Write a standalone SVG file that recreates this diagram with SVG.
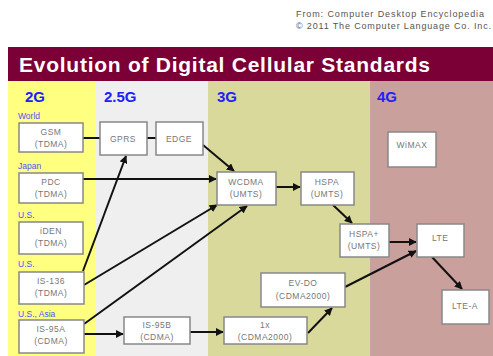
<svg xmlns="http://www.w3.org/2000/svg" width="493" height="356" viewBox="0 0 493 356">
<defs>
<style>
.node rect{fill:#fff;stroke:#888;stroke-width:1.5}
.node text{font-family:"Liberation Sans",Arial,sans-serif;font-size:8.5px;fill:#777;text-anchor:middle;letter-spacing:0.5px}
.loc{font-family:"Liberation Sans",Arial,sans-serif;font-size:8.5px;fill:#5050ff}
.gen{font-family:"Liberation Sans",Arial,sans-serif;font-size:15px;font-weight:bold;fill:#2020ff}
.conn line{stroke:#111;stroke-width:2}
.conn line.a{marker-end:url(#ah)}
</style>
<marker id="ah" viewBox="0 0 10 10" refX="9" refY="5" markerWidth="4" markerHeight="4" orient="auto" markerUnits="strokeWidth">
<path d="M0,0 L10,5 L0,10 z" fill="#111"/>
</marker>
</defs>
<rect width="493" height="356" fill="#fff"/>
<g id="header">
<text x="296" y="17" font-family="Liberation Sans,Arial,sans-serif" font-size="9px" fill="#555" textLength="188">From: Computer Desktop Encyclopedia</text>
<text x="296" y="29" font-family="Liberation Sans,Arial,sans-serif" font-size="9px" fill="#555" textLength="195">© 2011 The Computer Language Co. Inc.</text>
</g>
<g id="bands">
<rect x="8" y="81" width="87" height="275" fill="#ffff80"/>
<rect x="95" y="81" width="113" height="275" fill="#efefef"/>
<rect x="208" y="81" width="162" height="275" fill="#d9d99c"/>
<rect x="370" y="81" width="123" height="275" fill="#c9a09b"/>
</g>
<g id="title">
<rect x="8" y="47" width="485" height="34" fill="#7a0035"/>
<text x="19" y="72" font-family="Liberation Sans,Arial,sans-serif" font-size="21px" font-weight="bold" fill="#fff" textLength="411">Evolution of Digital Cellular Standards</text>
</g>
<g id="generations">
<text class="gen" x="25" y="102">2G</text>
<text class="gen" x="104" y="102">2.5G</text>
<text class="gen" x="217" y="102">3G</text>
<text class="gen" x="377" y="102">4G</text>
</g>
<g id="regions">
<text class="loc" x="18" y="119">World</text>
<text class="loc" x="18" y="169">Japan</text>
<text class="loc" x="18" y="218">U.S.</text>
<text class="loc" x="18" y="267">U.S.</text>
<text class="loc" x="18" y="317">U.S., Asia</text>
</g>
<g id="connectors" class="conn">
<line x1="83" y1="138" x2="100" y2="138"/>
<line x1="147" y1="138" x2="156" y2="138"/>
<line class="a" x1="203" y1="145" x2="234" y2="171"/>
<line class="a" x1="83" y1="179" x2="216" y2="179"/>
<line class="a" x1="83" y1="271" x2="126" y2="156"/>
<line class="a" x1="84" y1="285" x2="217" y2="205"/>
<line class="a" x1="84" y1="324" x2="247" y2="206"/>
<line class="a" x1="84" y1="334" x2="123" y2="334"/>
<line class="a" x1="190" y1="332" x2="223" y2="332"/>
<line class="a" x1="308" y1="333" x2="332" y2="308"/>
<line class="a" x1="345" y1="287" x2="416" y2="251"/>
<line class="a" x1="276" y1="187" x2="300" y2="187"/>
<line class="a" x1="333" y1="205" x2="352" y2="223"/>
<line class="a" x1="389" y1="242" x2="416" y2="242"/>
<line class="a" x1="432" y1="257" x2="462" y2="289"/>
</g>
<g id="gsm" class="node"><rect x="19" y="123" width="64" height="29"/><text x="51" y="135">GSM</text><text x="51" y="147">(TDMA)</text></g>
<g id="pdc" class="node"><rect x="19" y="173" width="64" height="30"/><text x="51" y="185">PDC</text><text x="51" y="197">(TDMA)</text></g>
<g id="iden" class="node"><rect x="19" y="222" width="64" height="32"/><text x="51" y="234">iDEN</text><text x="51" y="246">(TDMA)</text></g>
<g id="is136" class="node"><rect x="19" y="272" width="65" height="32"/><text x="51" y="284">IS-136</text><text x="51" y="296">(TDMA)</text></g>
<g id="is95a" class="node"><rect x="19" y="320" width="65" height="33"/><text x="51" y="332">IS-95A</text><text x="51" y="344">(CDMA)</text></g>
<g id="gprs" class="node"><rect x="100" y="122" width="47" height="33"/><text x="123" y="142">GPRS</text></g>
<g id="edge" class="node"><rect x="156" y="122" width="47" height="33"/><text x="179" y="142">EDGE</text></g>
<g id="is95b" class="node"><rect x="124" y="317" width="66" height="27"/><text x="157" y="328">IS-95B</text><text x="157" y="340">(CDMA)</text></g>
<g id="wcdma" class="node"><rect x="217" y="172" width="59" height="33"/><text x="246" y="185">WCDMA</text><text x="246" y="197">(UMTS)</text></g>
<g id="hspa" class="node"><rect x="301" y="172" width="53" height="33"/><text x="327" y="185">HSPA</text><text x="327" y="197">(UMTS)</text></g>
<g id="hspaplus" class="node"><rect x="340" y="224" width="49" height="33"/><text x="364" y="237">HSPA+</text><text x="364" y="249">(UMTS)</text></g>
<g id="evdo" class="node"><rect x="261" y="273" width="84" height="34"/><text x="303" y="286">EV-DO</text><text x="303" y="299">(CDMA2000)</text></g>
<g id="onex" class="node"><rect x="224" y="317" width="83" height="27"/><text x="265" y="328">1x</text><text x="265" y="340">(CDMA2000)</text></g>
<g id="wimax" class="node"><rect x="388" y="132" width="48" height="35"/><text x="412" y="148">WiMAX</text></g>
<g id="lte" class="node"><rect x="417" y="224" width="47" height="33"/><text x="432" y="241" style="text-anchor:start">LTE</text></g>
<g id="ltea" class="node"><rect x="442" y="290" width="47" height="34"/><text x="465" y="309">LTE-A</text></g>
</svg>
